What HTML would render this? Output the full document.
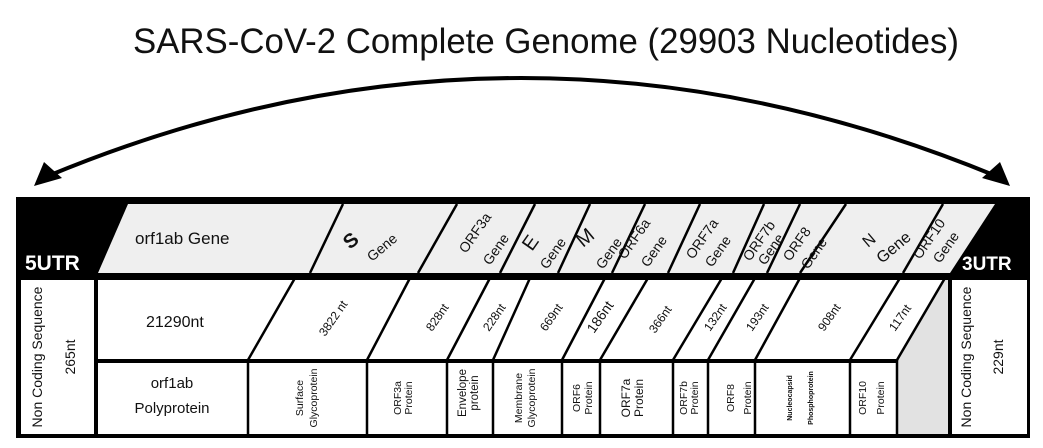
<!DOCTYPE html>
<html><head><meta charset="utf-8"><style>
html,body{margin:0;padding:0;background:#fff;}
svg{display:block;font-family:"Liberation Sans",Arial,sans-serif;}
</style></head><body>
<svg width="1043" height="448" viewBox="0 0 1043 448" xmlns="http://www.w3.org/2000/svg">
<text x="546" y="53" font-size="35" text-anchor="middle" fill="#111" textLength="826" lengthAdjust="spacingAndGlyphs">SARS-CoV-2 Complete Genome (29903 Nucleotides)</text>
<!-- arc arrow -->
<path d="M48,176 Q520,-20 996,176" fill="none" stroke="#000" stroke-width="4"/>
<polygon points="34,186 44,162 62,178" fill="#000"/>
<polygon points="1010,186 1000,162 982,178" fill="#000"/>
<!-- frame -->
<rect x="16" y="197" width="1014" height="241" fill="#000"/>
<polygon points="128,204 995,204 950,273 98,273" fill="#efefef"/>
<rect x="98" y="280" width="850" height="80" fill="#fff"/>
<rect x="98" y="362" width="850" height="72" fill="#fff"/>
<polygon points="945,280 948,280 948,434 897,434 897,360" fill="#e2e2e2"/>
<rect x="21" y="280" width="73" height="154" fill="#fff"/>
<rect x="952" y="280" width="75" height="154" fill="#fff"/>
<rect x="94" y="280" width="4" height="154" fill="#000"/>
<rect x="948" y="280" width="4" height="154" fill="#000"/>
<rect x="98" y="359" width="799" height="4" fill="#000"/>
<g stroke="#000" stroke-width="2.5" fill="none">
<line x1="310" y1="273" x2="343" y2="204"/>
<line x1="418" y1="273" x2="457" y2="204"/>
<line x1="500" y1="273" x2="535" y2="204"/>
<line x1="558" y1="273" x2="590" y2="204"/>
<line x1="612" y1="273" x2="645" y2="204"/>
<line x1="668" y1="273" x2="700" y2="204"/>
<line x1="733" y1="273" x2="764" y2="204"/>
<line x1="767" y1="273" x2="800" y2="204"/>
<line x1="800" y1="273" x2="846" y2="204"/>
<line x1="903" y1="273" x2="943" y2="204"/>
<line x1="248" y1="360" x2="295" y2="278"/>
<line x1="367" y1="360" x2="410" y2="278"/>
<line x1="447" y1="360" x2="490" y2="278"/>
<line x1="493" y1="360" x2="530" y2="278"/>
<line x1="562" y1="360" x2="605" y2="278"/>
<line x1="600" y1="360" x2="648" y2="278"/>
<line x1="673" y1="360" x2="722" y2="278"/>
<line x1="708" y1="360" x2="755" y2="278"/>
<line x1="755" y1="360" x2="800" y2="278"/>
<line x1="850" y1="360" x2="900" y2="278"/>
<line x1="897" y1="360" x2="945" y2="278"/>
<line x1="248" y1="360" x2="248" y2="435"/>
<line x1="367" y1="360" x2="367" y2="435"/>
<line x1="447" y1="360" x2="447" y2="435"/>
<line x1="493" y1="360" x2="493" y2="435"/>
<line x1="562" y1="360" x2="562" y2="435"/>
<line x1="600" y1="360" x2="600" y2="435"/>
<line x1="673" y1="360" x2="673" y2="435"/>
<line x1="708" y1="360" x2="708" y2="435"/>
<line x1="755" y1="360" x2="755" y2="435"/>
<line x1="850" y1="360" x2="850" y2="435"/>
<line x1="897" y1="360" x2="897" y2="435"/>
</g>
<text x="25" y="270" font-size="21" font-weight="bold" fill="#fff">5UTR</text>
<text x="962" y="270" font-size="19" font-weight="bold" fill="#fff">3UTR</text>
<text x="135" y="244" font-size="17" fill="#111">orf1ab Gene</text>
<g fill="#111" font-size="14">
<text transform="translate(350,250) rotate(-40)" font-size="20" font-weight="bold">S</text>
<text transform="translate(372,262) rotate(-40)">Gene</text>
<text transform="translate(466,254) rotate(-55)">ORF3a</text>
<text transform="translate(490,266) rotate(-55)">Gene</text>
<text transform="translate(532,252) rotate(-55)" font-size="20">E</text>
<text transform="translate(547,270) rotate(-55)">Gene</text>
<text transform="translate(583,248) rotate(-40)" font-size="20">M</text>
<text transform="translate(603,270) rotate(-55)">Gene</text>
<text transform="translate(625,260) rotate(-55)">ORF6a</text>
<text transform="translate(648,268) rotate(-55)">Gene</text>
<text transform="translate(693,260) rotate(-55)">ORF7a</text>
<text transform="translate(712,268) rotate(-55)">Gene</text>
<text transform="translate(750,262) rotate(-55)">ORF7b</text>
<text transform="translate(765,266) rotate(-55)">Gene</text>
<text transform="translate(790,262) rotate(-55)">ORF8</text>
<text transform="translate(808,270) rotate(-55)">Gene</text>
<text transform="translate(868,248) rotate(-40)" font-size="16">N</text>
<text transform="translate(882,264) rotate(-40)" font-size="16">Gene</text>
<text transform="translate(920,260) rotate(-55)">ORF10</text>
<text transform="translate(940,264) rotate(-55)">Gene</text>
</g>
<text x="146" y="327" font-size="16" fill="#111">21290nt</text>
<g fill="#111" font-size="12">
<text transform="translate(325,337) rotate(-55)">3822 nt</text>
<text transform="translate(432,332) rotate(-55)">828nt</text>
<text transform="translate(489,332) rotate(-55)">228nt</text>
<text transform="translate(546,332) rotate(-55)">669nt</text>
<text transform="translate(594,334) rotate(-55)" font-size="14">186nt</text>
<text transform="translate(655,334) rotate(-55)">366nt</text>
<text transform="translate(710,332) rotate(-55)">132nt</text>
<text transform="translate(752,332) rotate(-55)">193nt</text>
<text transform="translate(824,332) rotate(-55)">908nt</text>
<text transform="translate(895,332) rotate(-55)">117nt</text>
</g>
<text x="172" y="388" font-size="15" text-anchor="middle" fill="#111">orf1ab</text>
<text x="172" y="413" font-size="15" text-anchor="middle" fill="#111">Polyprotein</text>
<g fill="#111" font-size="10.5" text-anchor="middle">
<text transform="translate(303,398) rotate(-90)">Surface</text>
<text transform="translate(317,398) rotate(-90)">Glycoprotein</text>
<text transform="translate(401,398) rotate(-90)">ORF3a</text>
<text transform="translate(412,398) rotate(-90)">Protein</text>
<text transform="translate(466,393) rotate(-90)" font-size="11.5">Envelope</text>
<text transform="translate(478,393) rotate(-90)" font-size="11.5">protein</text>
<text transform="translate(522,398) rotate(-90)">Membrane</text>
<text transform="translate(535,398) rotate(-90)">Glycoprotein</text>
<text transform="translate(580,398) rotate(-90)">ORF6</text>
<text transform="translate(592,398) rotate(-90)">Protein</text>
<text transform="translate(630,398) rotate(-90)" font-size="12">ORF7a</text>
<text transform="translate(643,398) rotate(-90)" font-size="12">Protein</text>
<text transform="translate(687,398) rotate(-90)">ORF7b</text>
<text transform="translate(698,398) rotate(-90)">Protein</text>
<text transform="translate(734,398) rotate(-90)">ORF8</text>
<text transform="translate(751,398) rotate(-90)">Protein</text>
<text transform="translate(792,398) rotate(-90)" font-size="7" font-weight="bold">Nucleocapsid</text>
<text transform="translate(813,398) rotate(-90)" font-size="7" font-weight="bold">Phosphoprotein</text>
<text transform="translate(866,398) rotate(-90)">ORF10</text>
<text transform="translate(884,398) rotate(-90)">Protein</text>
</g>
<g fill="#111" font-size="14" text-anchor="middle">
<text transform="translate(42,357) rotate(-90)">Non Coding Sequence</text>
<text transform="translate(75,357) rotate(-90)">265nt</text>
<text transform="translate(971,357) rotate(-90)">Non Coding Sequence</text>
<text transform="translate(1003,357) rotate(-90)">229nt</text>
</g>
</svg>
</body></html>
